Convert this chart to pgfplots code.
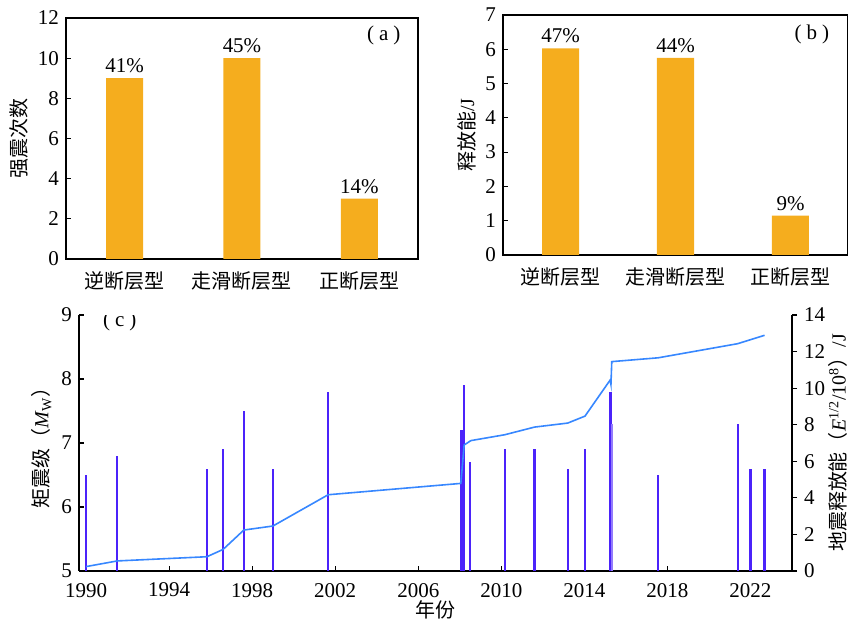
\documentclass[border=0pt]{standalone}
\usepackage{fontspec}
\setmainfont{Liberation Serif}
\newfontfamily\cjk{Noto Sans CJK SC}
\usepackage{pgfplots}
\pgfplotsset{compat=1.18}
\definecolor{barorange}{RGB}{245,173,30}
\definecolor{spike}{RGB}{75,35,250}
\definecolor{eline}{RGB}{55,135,255}
\begin{document}
\begin{tikzpicture}
\pgfplotsset{
  every axis/.append style={
    scale only axis,
    /pgf/number format/assume math mode=true,
    tick label style={font=\fontsize{10.5}{12}\selectfont},
    label style={font=\fontsize{10}{12}\selectfont},
    axis line style={black, line width=0.6pt},
    major tick length=2.5pt,
    tick style={black, line width=0.6pt},
  }
}
% ---------------- panel (a)
\begin{axis}[
  at={(33pt,184pt)}, anchor=south west,
  width=176pt, height=120.5pt,
  xmin=-0.5, xmax=2.5, ymin=0, ymax=12,
  ytick={0,2,...,12},
  xtick={0,1,2},
  xticklabels={{\cjk 逆断层型},{\cjk 走滑断层型},{\cjk 正断层型}},
  xticklabel style={font=\cjk\fontsize{10}{12}\selectfont, yshift=-3pt},
  xtick style={draw=none},
  ytick pos=left, tick align=inside,
  ylabel={\cjk 强震次数},
  ylabel style={yshift=-2pt},
  nodes near coords, point meta=explicit symbolic,
  every node near coord/.append style={font=\fontsize{10.5}{12}\selectfont, yshift=-1pt},
]
\addplot[ybar, bar width=18.5pt, fill=barorange, draw=none] coordinates {
  (0,9) [41\%]
  (1,10) [45\%]
  (2,3) [14\%]
};
\node[font=\fontsize{10.5}{12}\selectfont, anchor=east] at (rel axis cs:0.97,0.929) {(\hspace{2.5pt}a\hspace{2.5pt})};
\end{axis}
% ---------------- panel (b)
\begin{axis}[
  at={(251.5pt,186pt)}, anchor=south west,
  width=172.5pt, height=120pt,
  xmin=-0.5, xmax=2.5, ymin=0, ymax=7,
  ytick={0,1,...,7},
  xtick={0,1,2},
  xticklabels={{\cjk 逆断层型},{\cjk 走滑断层型},{\cjk 正断层型}},
  xticklabel style={font=\cjk\fontsize{10}{12}\selectfont, yshift=-3pt},
  xtick style={draw=none},
  ytick pos=left, tick align=inside,
  ylabel={{\cjk 释放能}/J},
  ylabel style={yshift=-2pt},
  nodes near coords, point meta=explicit symbolic,
  every node near coord/.append style={font=\fontsize{10.5}{12}\selectfont, yshift=-1pt},
]
\addplot[ybar, bar width=18.5pt, fill=barorange, draw=none] coordinates {
  (0,6.03) [47\%]
  (1,5.75) [44\%]
  (2,1.15) [9\%]
};
\node[font=\fontsize{10.5}{12}\selectfont, anchor=east] at (rel axis cs:0.966,0.917) {(\hspace{2.5pt}b\hspace{2.5pt})};
\end{axis}
% ---------------- panel (c) left axis
\begin{axis}[
  at={(39.5pt,28pt)}, anchor=south west,
  width=356.5pt, height=128pt,
  xmin=1989.66, xmax=2024, ymin=5, ymax=9,
  axis x line*=bottom, axis y line*=left,
  xtick={1990,1994,...,2022},
  ytick={5,6,7,8,9},
  tick align=inside,
  x tick label style={/pgf/number format/1000 sep={}, yshift=-2.5pt},
  xlabel={\cjk 年份},
  xlabel style={yshift=5pt},
  ylabel={{\cjk 矩震级（}\textit{M}\textsubscript{W}{\cjk ）}},
  ylabel style={yshift=-2pt},
]
\addplot[ycomb, spike, line width=1.1pt] coordinates {
  (1990.0,6.5) (1991.5,6.8) (1995.82,6.6) (1996.6,6.9) (1997.6,7.5)
  (1999.0,6.6) (2001.66,7.8) (2008.08,7.2) (2008.22,7.9) (2008.51,6.7)
  (2010.16,6.9) (2011.6,6.9) (2013.2,6.6) (2014.03,6.9) (2015.26,7.8)
  (2017.56,6.5) (2021.38,7.3) (2022.0,6.6) (2022.68,6.6)
};
\addplot[ycomb, spike!60, line width=0.7pt] coordinates {(2015.34,7.3)};
\node[font=\fontsize{10.5}{12}\selectfont, anchor=west] at (rel axis cs:0.024,0.973) {(\hspace{2.5pt}c\hspace{2.5pt})};
\end{axis}
% ---------------- panel (c) right axis
\begin{axis}[
  at={(39.5pt,28pt)}, anchor=south west,
  width=356.5pt, height=128pt,
  xmin=1989.66, xmax=2024, ymin=0, ymax=14,
  axis x line=none, axis y line*=right,
  ytick={0,2,...,14},
  tick align=outside,
  ylabel={{\cjk 地震释放能（}\textit{E}\textsuperscript{1/2}/10\textsuperscript{8}{\cjk ）}/J},
  ylabel style={at={(rel axis cs:1,0.5)}, anchor=center, rotate=0, xshift=0pt, yshift=-23pt},
]
\addplot[eline, line width=0.8pt] coordinates {
  (1990.0,0.24) (1991.5,0.55) (1995.82,0.78) (1996.6,1.18) (1997.6,2.24)
  (1999.0,2.46) (2001.66,4.17) (2008.05,4.79) (2008.21,6.89) (2008.53,7.13)
  (2010.16,7.45) (2011.6,7.87) (2013.2,8.09) (2014.03,8.47) (2015.24,10.44)
  (2015.28,10.2) (2015.32,11.45) (2017.56,11.66) (2021.38,12.43) (2022.68,12.89)
};
\end{axis}
\pgfresetboundingbox
\useasboundingbox (0,0) rectangle (424pt,313.5pt);
\end{tikzpicture}
\end{document}
